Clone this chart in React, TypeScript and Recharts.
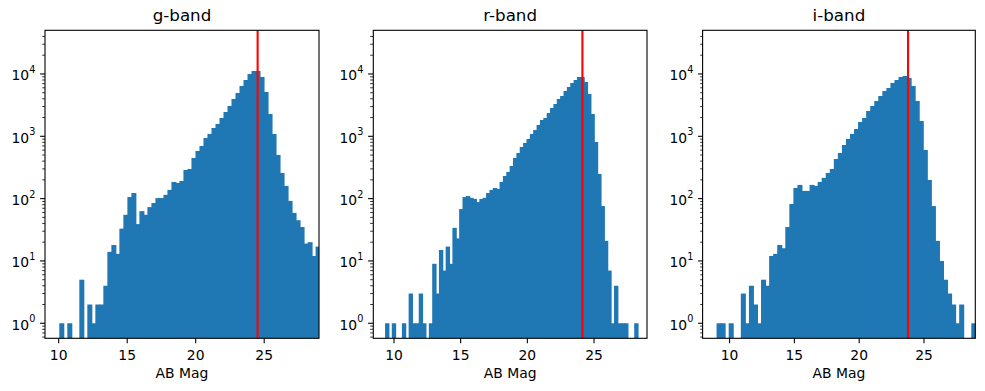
import React from 'react';
import { BarChart, Bar, XAxis, YAxis, ReferenceLine } from 'recharts';

// counts per bin (0 = empty bin)
const gCounts = [
  1, 0, 1, 0, 0, 5, 0, 2, 1, 2, 2, 4, 14, 18, 13, 33, 55, 106, 123, 39,
  63, 55, 73, 85, 102, 102, 115, 138, 185, 178, 192, 288, 299, 449, 582, 700, 940, 1090, 1360, 1577,
  1968, 2455, 3066, 3970, 4956, 6415, 8010, 10000, 11170, 11170, 8950, 5140, 2280, 1090, 503, 258, 160, 92, 59, 45,
  35, 19, 20, 12, 17,
];
const rCounts = [
  1, 0, 1, 0, 0, 1, 0, 3, 1, 1, 3, 1, 0, 1, 9, 3, 15, 7, 17, 9,
  34, 23, 68, 106, 110, 103, 99, 88, 99, 103, 123, 138, 148, 143, 185, 231, 268, 334, 449, 540,
  674, 782, 906, 1090, 1264, 1520, 1828, 1968, 2367, 2850, 3300, 3970, 4436, 5335, 6180, 7170, 8010, 8950, 8950, 7445,
  4777, 2280, 811, 249, 76, 21, 7, 1, 4, 1, 1, 1, 0, 0, 1,
];
const iCounts = [
  1, 1, 0, 1, 0, 0, 3, 1, 4, 2, 1, 5, 4, 12, 13, 18, 16, 35, 82, 148,
  166, 133, 133, 166, 160, 185, 215, 258, 299, 433, 540, 726, 906, 1090, 1312, 1698, 1968, 2548, 3066, 3690,
  4436, 5335, 5960, 7170, 8010, 8950, 9290, 8630, 6415, 3690, 1762, 604, 199, 76, 21, 10, 5, 3, 2, 1,
  2, 0, 0, 1,
];

const bandTitles = ['g-band', 'r-band', 'i-band'];
const bandCounts = [gCounts, rCounts, iCounts];
const binStarts = [10.095, 9.38, 9.05];
const binWidths = [0.2923, 0.2525, 0.312];
const magLimits = [24.52, 24.13, 23.77];
const xDomains: [number, number][] = [[9, 29], [8.425, 28.95], [7.95, 28.99]];

const xTicks = [10, 15, 20, 25];
const yMajorTicks = [1, 10, 100, 1000, 10000];
const yMinorTicks = [
  0.6, 0.7, 0.8, 0.9,
  2, 3, 4, 5, 6, 7, 8, 9,
  20, 30, 40, 50, 60, 70, 80, 90,
  200, 300, 400, 500, 600, 700, 800, 900,
  2000, 3000, 4000, 5000, 6000, 7000, 8000, 9000,
  20000, 30000, 40000,
];
const yDomain: [number, number] = [0.574, 50200];

// layout (px)
const W = 985;
const H = 391;
const plotTop = 30.3;
const plotBottom = 338.3;
const axisW = 45;
const panelLefts = [45, 373.3, 702.6];
const panelWidths = [274, 273.7, 272.7];

const font = 'DejaVu Sans, sans-serif';
const barColor = '#1f77b4';

const YTick = (props: any) => {
  const { x, y, payload } = props;
  const v = payload.value;
  const major = yMajorTicks.includes(v);
  return (
    <g>
      <line x1={x} x2={x - (major ? 4.9 : 2.8)} y1={y} y2={y} stroke="#000" strokeWidth={major ? 1.1 : 0.8} />
      {major && (
        <text x={x - 9.7} y={y + 6.5} textAnchor="end" fontSize={13.9} fontFamily={font} fill="#000">
          10<tspan dy={-7.4} fontSize={9.7}>{Math.round(Math.log10(v))}</tspan>
        </text>
      )}
    </g>
  );
};

const XTick = (props: any) => {
  const { x, y, payload } = props;
  return (
    <g>
      <line x1={x} x2={x} y1={y} y2={y + 4.9} stroke="#000" strokeWidth={1.1} />
      <text x={x} y={y + 21.8} textAnchor="middle" fontSize={13.9} fontFamily={font} fill="#000">
        {payload.value}
      </text>
    </g>
  );
};

const Panel = ({ idx }: { idx: number }) => {
  const counts = bandCounts[idx];
  const data = counts.map((c, k) => ({
    x: binStarts[idx] + (k + 0.5) * binWidths[idx],
    count: c > 0 ? c : null,
  }));
  const [x0, x1] = xDomains[idx];
  const pw = panelWidths[idx];
  const barSize = (pw / (x1 - x0)) * binWidths[idx];
  // draw each bar over its full bin width, slightly overlapping so histogram bars touch
  const HistBar = (p: any) => {
    if (p.height == null || !(p.height > 0)) return <g />;
    const cx = p.x + p.width / 2;
    return <rect x={cx - barSize / 2 - 0.5} y={p.y} width={barSize + 1} height={p.height} fill={barColor} />;
  };
  return (
    <div style={{ position: 'absolute', left: panelLefts[idx] - axisW, top: 0 }}>
      <BarChart
        width={axisW + pw + 5}
        height={H}
        data={data}
        margin={{ top: plotTop, right: 5, bottom: 0, left: 0 }}
        barCategoryGap={0}
        barGap={0}
      >
        <XAxis
          dataKey="x"
          type="number"
          domain={[x0, x1]}
          allowDataOverflow
          ticks={xTicks}
          interval={0}
          axisLine={false}
          tickLine={false}
          tickSize={0}
          tickMargin={0}
          height={H - plotBottom}
          tick={XTick}
        />
        <YAxis
          type="number"
          scale="log"
          domain={yDomain}
          allowDataOverflow
          ticks={[...yMajorTicks, ...yMinorTicks]}
          interval={0}
          axisLine={false}
          tickLine={false}
          tickSize={0}
          tickMargin={0}
          width={axisW}
          tick={YTick}
        />
        <Bar dataKey="count" fill={barColor} barSize={barSize} shape={HistBar} isAnimationActive={false} />
        <ReferenceLine x={magLimits[idx]} stroke="#ff0000" strokeWidth={2.1} />
      </BarChart>
    </div>
  );
};

export default function App() {
  return (
    <div style={{ position: 'absolute', left: 0, top: 0, width: W, height: H, background: '#fff' }}>
      {bandTitles.map((_, i) => (
        <Panel key={i} idx={i} />
      ))}
      <svg width={W} height={H} style={{ position: 'absolute', left: 0, top: 0, pointerEvents: 'none' }}>
        {bandTitles.map((t, i) => (
          <g key={t}>
            <rect
              x={panelLefts[i]}
              y={plotTop}
              width={panelWidths[i]}
              height={plotBottom - plotTop}
              fill="none"
              stroke="#000"
              strokeWidth={1.1}
            />
            <text x={panelLefts[i] + panelWidths[i] / 2} y={21} textAnchor="middle" fontSize={16.7} fontFamily={font} fill="#000">
              {t}
            </text>
            <text x={panelLefts[i] + panelWidths[i] / 2} y={378.4} textAnchor="middle" fontSize={13.9} fontFamily={font} fill="#000">
              AB Mag
            </text>
          </g>
        ))}
      </svg>
    </div>
  );
}
